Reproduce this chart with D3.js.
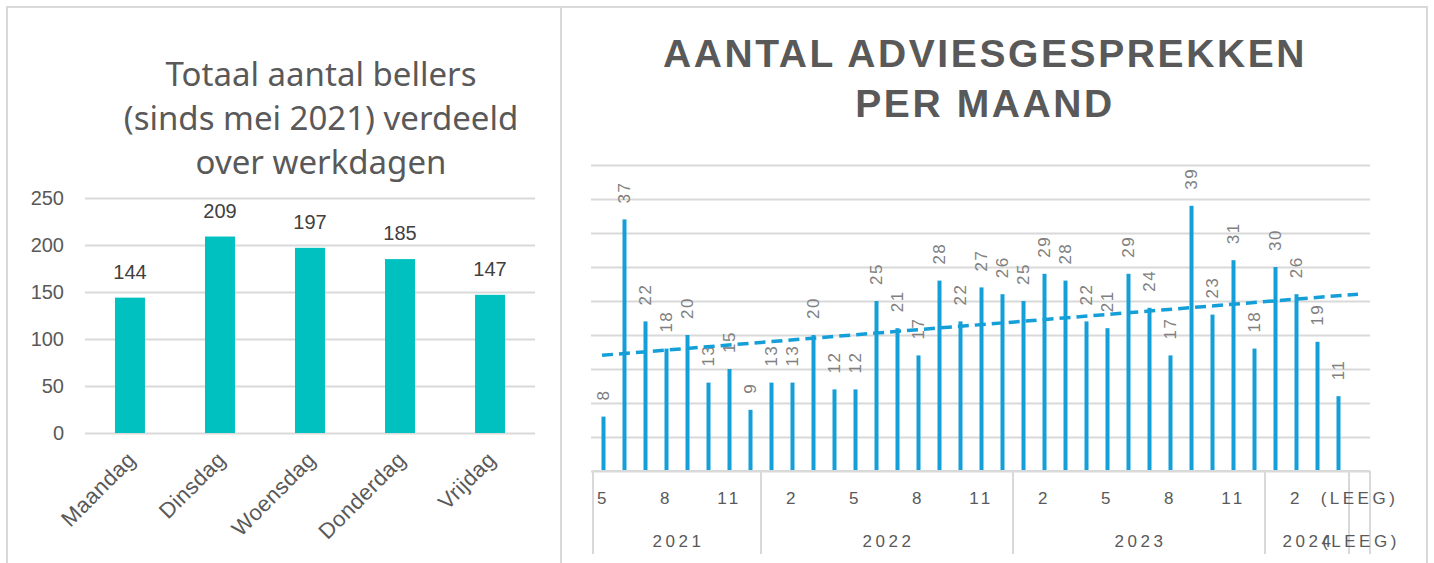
<!DOCTYPE html>
<html>
<head>
<meta charset="utf-8">
<script src="https://cdn.jsdelivr.net/npm/d3@7"></script>
<style>
  html, body { margin: 0; padding: 0; background: #fff; }
  svg { display: block; }
</style>
</head>
<body>
<div id="chart"></div>
<script>
// Two Excel-style charts side by side: callers per weekday + advice calls per month

// --- left chart data
const dayNames = ["Maandag", "Dinsdag", "Woensdag", "Donderdag", "Vrijdag"];
const dayCalls = [144, 209, 197, 185, 147];
const dayTicks = [0, 50, 100, 150, 200, 250];

// --- right chart data (months per year, first month of each year given separately)
const yearLabels = ["2021", "2022", "2023", "2024"];
const yearFirstMonth = [5, 1, 1, 1];
const counts2021 = [8, 37, 22, 18, 20, 13, 15, 9];
const counts2022 = [13, 13, 20, 12, 12, 25, 21, 17, 28, 22, 27, 26];
const counts2023 = [25, 29, 28, 22, 21, 29, 24, 17, 39, 23, 31, 18];
const counts2024 = [30, 26, 19, 11];
const emptyLabel = "(LEEG)";
const monthTicks = [0, 5, 10, 15, 20, 25, 30, 35, 40, 45];

const W = 1434, H = 563;
const grey = "#595959", grid = "#d9d9d9";

const svg = d3.select("#chart").append("svg")
  .attr("width", W).attr("height", H);

svg.append("rect").attr("width", W).attr("height", H).attr("fill", "#fff");

// panel frames
svg.append("rect")
  .attr("x", 7).attr("y", 7).attr("width", 554).attr("height", H)
  .attr("fill", "none").attr("stroke", grid).attr("stroke-width", 2);
svg.append("rect")
  .attr("x", 561).attr("y", 7).attr("width", 866).attr("height", H)
  .attr("fill", "none").attr("stroke", grid).attr("stroke-width", 2);

// ================= LEFT CHART =================
const left = svg.append("g");

const titleLines = ["Totaal aantal bellers", "(sinds mei 2021) verdeeld", "over werkdagen"];
left.append("text")
  .attr("x", 321).attr("y", 86)
  .attr("text-anchor", "middle")
  .style("font-family", "'Noto Sans', sans-serif")
  .style("font-size", "33px")
  .style("fill", grey)
  .selectAll("tspan")
  .data(titleLines)
  .join("tspan")
  .attr("x", 321)
  .attr("dy", (d, i) => i ? 44 : 0)
  .text(d => d);

const xDay = d3.scaleBand().domain(dayNames).range([85, 535]).paddingInner(0.667).paddingOuter(0.333);
const yDay = d3.scaleLinear().domain([0, 250]).range([433, 198]);

left.append("g")
  .call(d3.axisLeft(yDay).tickValues(dayTicks).tickSize(-450).tickPadding(21))
  .attr("transform", "translate(85,0)")
  .call(g => g.select(".domain").remove())
  .call(g => g.selectAll(".tick line").attr("stroke", grid).attr("stroke-width", 2))
  .call(g => g.selectAll(".tick text")
    .style("font-family", "'Liberation Sans', Arial, sans-serif")
    .style("font-size", "20px")
    .style("fill", grey));

left.selectAll(".daybar")
  .data(dayNames)
  .join("rect")
  .attr("class", "daybar")
  .attr("x", d => xDay(d))
  .attr("width", xDay.bandwidth())
  .attr("y", (d, i) => yDay(dayCalls[i]))
  .attr("height", (d, i) => yDay(0) - yDay(dayCalls[i]))
  .attr("fill", "#00c0c0");

left.selectAll(".daylabel")
  .data(dayNames)
  .join("text")
  .attr("class", "daylabel")
  .attr("x", d => xDay(d) + xDay.bandwidth() / 2)
  .attr("y", (d, i) => yDay(dayCalls[i]) - 19)
  .attr("text-anchor", "middle")
  .style("font-family", "'Liberation Sans', Arial, sans-serif")
  .style("font-size", "20px")
  .style("fill", "#404040")
  .text((d, i) => dayCalls[i]);

left.selectAll(".dayname")
  .data(dayNames)
  .join("text")
  .attr("class", "dayname")
  .attr("transform", d => `translate(${xDay(d) + xDay.bandwidth() / 2 - 4},${450}) rotate(-45)`)
  .attr("text-anchor", "end")
  .attr("dy", "0.71em")
  .style("font-family", "'Liberation Sans', Arial, sans-serif")
  .style("font-size", "22px")
  .style("letter-spacing", "0.4px")
  .style("fill", grey)
  .text(d => d);

// ================= RIGHT CHART =================
const right = svg.append("g");

right.append("text")
  .attr("text-anchor", "middle")
  .style("font-family", "'Liberation Sans', Arial, sans-serif")
  .style("font-weight", "bold")
  .style("font-size", "39px")
  .style("fill", grey)
  .selectAll("tspan")
  .data(["AANTAL ADVIESGESPREKKEN", "PER MAAND"])
  .join("tspan")
  .attr("x", 985)
  .attr("y", (d, i) => 67 + i * 50)
  .style("letter-spacing", "2.6px")
  .text(d => d);

// build category table from the per-year arrays
const yearCounts = [counts2021, counts2022, counts2023, counts2024];
const months = [];
yearCounts.forEach((arr, yi) => {
  arr.forEach((v, mi) => {
    months.push({ key: `${yearLabels[yi]}-${yearFirstMonth[yi] + mi}`, year: yearLabels[yi], month: yearFirstMonth[yi] + mi, value: v });
  });
});
const cats = months.concat([{ key: emptyLabel, year: emptyLabel, month: emptyLabel, value: null }]);

const xM = d3.scaleBand().domain(cats.map(d => d.key)).range([593, 1370]).padding(0);
const yM = d3.scaleLinear().domain([0, 45]).range([471, 165]);
const cx = d => xM(d.key) + xM.bandwidth() / 2;

right.append("g")
  .attr("transform", "translate(591,0)")
  .call(d3.axisLeft(yM).tickValues(monthTicks).tickSize(-779).tickFormat(""))
  .call(g => g.select(".domain").remove())
  .call(g => g.selectAll(".tick line").attr("stroke", grid).attr("stroke-width", 2));

const blue = "#159fd8";

right.selectAll(".mbar")
  .data(months)
  .join("rect")
  .attr("class", "mbar")
  .attr("x", d => cx(d) - 2)
  .attr("width", 4)
  .attr("y", d => yM(d.value))
  .attr("height", d => yM(0) - yM(d.value))
  .attr("fill", blue);

right.selectAll(".mlabel")
  .data(months)
  .join("text")
  .attr("class", "mlabel")
  .attr("transform", d => `translate(${cx(d)},${yM(d.value) - 16}) rotate(-90)`)
  .attr("dominant-baseline", "central")
  .style("font-family", "'Liberation Sans', Arial, sans-serif")
  .style("font-size", "17px")
  .style("letter-spacing", "1.5px")
  .style("fill", "#808080")
  .text(d => d.value);

// linear trend (least squares over month index)
const mx = d3.mean(months, (d, i) => i);
const my = d3.mean(months, d => d.value);
const slope = d3.sum(months, (d, i) => (i - mx) * (d.value - my)) / d3.sum(months, (d, i) => (i - mx) ** 2);
const icpt = my - slope * mx;
const trendPts = [0, cats.length - 1].map(i => [cx(cats[i]) - 1.5, yM(icpt + slope * i)]);

right.append("path")
  .attr("d", d3.line()(trendPts))
  .attr("fill", "none")
  .attr("stroke", blue)
  .attr("stroke-width", 3.5)
  .attr("stroke-dasharray", "11,6");

// multi-level category axis
const axisG = right.append("g");
axisG.append("line")
  .attr("x1", 593).attr("x2", 1370).attr("y1", 471).attr("y2", 471)
  .attr("stroke", grid).attr("stroke-width", 2);

const groupNames = yearLabels.concat([emptyLabel]);
const groupEdges = groupNames.map(g => {
  const inG = cats.filter(c => c.year === g);
  return { name: g, x0: xM(inG[0].key), x1: xM(inG[inG.length - 1].key) + xM.bandwidth() };
});
const edgeXs = [groupEdges[0].x0].concat(groupEdges.map(e => e.x1));
axisG.selectAll(".sep")
  .data(edgeXs)
  .join("line")
  .attr("x1", d => d).attr("x2", d => d)
  .attr("y1", 471).attr("y2", 554)
  .attr("stroke", grid).attr("stroke-width", 2);

const axisFont = g => g
  .style("font-family", "'Liberation Sans', Arial, sans-serif")
  .style("font-size", "17px")
  .style("letter-spacing", "3.5px")
  .style("fill", grey)
  .attr("text-anchor", "middle");

axisG.selectAll(".mtick")
  .data(cats.filter((d, i) => i % 3 === 0))
  .join("text")
  .attr("class", "mtick")
  .attr("x", d => cx(d))
  .attr("y", 504)
  .call(axisFont)
  .text(d => d.month);

axisG.selectAll(".ytick")
  .data(groupEdges)
  .join("text")
  .attr("class", "ytick")
  .attr("x", d => (d.x0 + d.x1) / 2 + 1.5)
  .attr("y", 547)
  .call(axisFont)
  .text(d => d.name);
</script>
</body>
</html>
